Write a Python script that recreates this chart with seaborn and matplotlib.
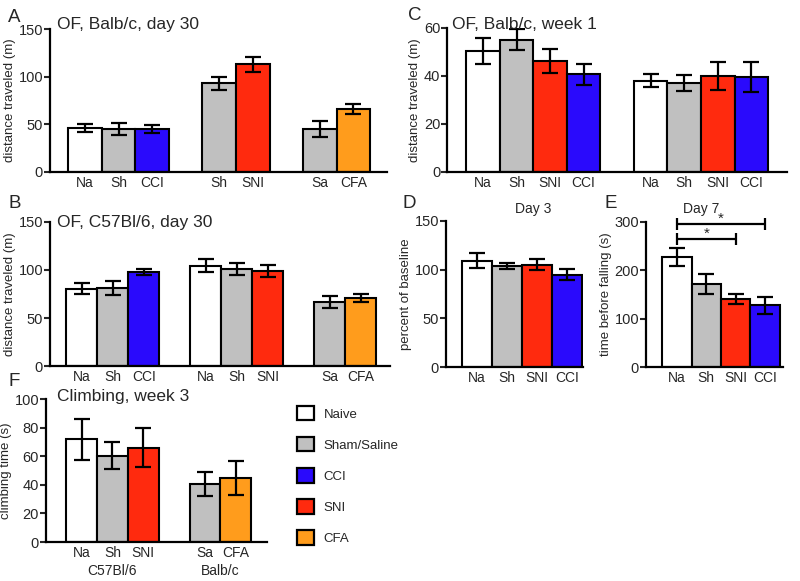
import numpy as np
import pandas as pd
import matplotlib
matplotlib.use('Agg')
import matplotlib.pyplot as plt
from matplotlib.patches import Patch
import seaborn as sns

# ZONA DE DATOS

colores = {'Naive': '#ffffff', 'Sham/Saline': '#c0c0c0', 'CCI': '#2a0afc',
           'SNI': '#ff2a0e', 'CFA': '#ff9c1c'}

# A: OF, Balb/c, day 30
a_grupos = [3, 2, 2]
a_etiq = ['Na', 'Sh', 'CCI', 'Sh', 'SNI', 'Sa', 'CFA']
a_cond = ['Naive', 'Sham/Saline', 'CCI', 'Sham/Saline', 'SNI', 'Sham/Saline', 'CFA']
a_media = [46, 45, 45, 93, 113, 45, 66]
a_sem = [4, 6, 4, 6.5, 8, 8, 5.5]

# B: OF, C57Bl/6, day 30
b_grupos = [3, 3, 2]
b_etiq = ['Na', 'Sh', 'CCI', 'Na', 'Sh', 'SNI', 'Sa', 'CFA']
b_cond = ['Naive', 'Sham/Saline', 'CCI', 'Naive', 'Sham/Saline', 'SNI', 'Sham/Saline', 'CFA']
b_media = [80.5, 81.5, 97.5, 104.5, 101, 99, 66.5, 71]
b_sem = [6, 7.5, 3, 7, 6.5, 6.3, 6.3, 4]

# C: OF, Balb/c, week 1
c_grupos = [4, 4]
c_etiq = ['Na', 'Sh', 'SNI', 'CCI', 'Na', 'Sh', 'SNI', 'CCI']
c_cond = ['Naive', 'Sham/Saline', 'SNI', 'CCI', 'Naive', 'Sham/Saline', 'SNI', 'CCI']
c_media = [50.3, 55, 46.2, 40.7, 38, 37, 40, 39.6]
c_sem = [5.5, 4.4, 5.1, 4.3, 2.6, 3.4, 5.8, 6.1]
c_dias = ['Day 3', 'Day 7']

# D: percent of baseline
d_grupos = [4]
d_etiq = ['Na', 'Sh', 'SNI', 'CCI']
d_cond = ['Naive', 'Sham/Saline', 'SNI', 'CCI']
d_media = [109, 104, 105, 94.8]
d_sem = [7.7, 3, 5.8, 5.5]

# E: time before falling
e_grupos = [4]
e_etiq = ['Na', 'Sh', 'SNI', 'CCI']
e_cond = ['Naive', 'Sham/Saline', 'SNI', 'CCI']
e_media = [227.5, 171.5, 141, 127.5]
e_sem = [19, 21, 10, 18.5]
e_sig = [('Na', 'CCI', 296), ('Na', 'SNI', 265)]

# F: Climbing, week 3
f_grupos = [3, 2]
f_etiq = ['Na', 'Sh', 'SNI', 'Sa', 'CFA']
f_cond = ['Naive', 'Sham/Saline', 'SNI', 'Sham/Saline', 'CFA']
f_media = [71.9, 60.5, 66, 40.7, 45]
f_sem = [14.3, 9.3, 13.7, 8.4, 12]
f_cepas = ['C57Bl/6', 'Balb/c']


def posiciones(grupos):
    pos = []
    inicio = 0
    for n in grupos:
        pos += list(range(inicio, inicio + n))
        inicio += n + 1
    return pos


def panel(ax, grupos, etiq, cond, media, sem, xlim, ylim, yticks, ylabel):
    pos = posiciones(grupos)
    df = pd.DataFrame({'pos': pos, 'media': media, 'cond': cond})
    sns.barplot(data=df, x='pos', y='media', hue='cond', palette=colores,
                native_scale=True, width=1, dodge=False, edgecolor='black',
                linewidth=1.5, errorbar=None, legend=False, saturation=1,
                ax=ax, zorder=2)
    ax.errorbar(pos, media, yerr=sem, fmt='none', ecolor='black',
                elinewidth=1.6, capsize=6, capthick=1.6, zorder=3)
    ax.set_xlim(*xlim)
    ax.set_ylim(*ylim)
    ax.set_yticks(yticks)
    ax.set_xticks(pos)
    ax.set_xticklabels(etiq, fontsize=10)
    ax.set_xlabel('')
    ax.set_ylabel(ylabel, fontsize=9.5, labelpad=2)
    ax.tick_params(axis='y', direction='out', length=4, width=1.5, labelsize=10.5, pad=1)
    ax.tick_params(axis='x', length=0, pad=3)
    for lado in ['top', 'right']:
        ax.spines[lado].set_visible(False)
    for lado in ['left', 'bottom']:
        ax.spines[lado].set_linewidth(1.6)
        ax.spines[lado].set_color('black')
    return pos


sns.set_style('ticks')
plt.rcParams['font.family'] = ['Liberation Sans', 'DejaVu Sans']

fig = plt.figure(figsize=(8, 5.81), dpi=100)

axA = fig.add_axes([0.0625, 0.704, 0.421, 0.246])
panel(axA, a_grupos, a_etiq, a_cond, a_media, a_sem, (-1.05, 9.0), (0, 150),
      [0, 50, 100, 150], 'distance traveled (m)')
axA.text(0.02, 1.0, 'OF, Balb/c, day 30', transform=axA.transAxes, fontsize=12.5, va='baseline')

axC = fig.add_axes([0.559, 0.704, 0.425, 0.248])
posC = panel(axC, c_grupos, c_etiq, c_cond, c_media, c_sem, (-1.07, 9.07), (0, 60),
             [0, 20, 40, 60], 'distance traveled (m)')
axC.text(0.015, 0.99, 'OF, Balb/c, week 1', transform=axC.transAxes, fontsize=12.5, va='baseline')
for i, dia in enumerate(c_dias):
    xs = posC[i * 4:(i + 1) * 4]
    axC.text(np.mean(xs), -0.26, dia, transform=axC.get_xaxis_transform(),
             ha='center', va='center', fontsize=10)

axB = fig.add_axes([0.0625, 0.370, 0.425, 0.248])
panel(axB, b_grupos, b_etiq, b_cond, b_media, b_sem, (-1.03, 9.95), (0, 150),
      [0, 50, 100, 150], 'distance traveled (m)')
axB.text(0.02, 0.965, 'OF, C57Bl/6, day 30', transform=axB.transAxes, fontsize=12.5, va='baseline')

axD = fig.add_axes([0.5575, 0.368, 0.171, 0.252])
panel(axD, d_grupos, d_etiq, d_cond, d_media, d_sem, (-1.03, 3.53), (0, 150),
      [0, 50, 100, 150], 'percent of baseline')

axE = fig.add_axes([0.8075, 0.368, 0.171, 0.250])
posE = panel(axE, e_grupos, e_etiq, e_cond, e_media, e_sem, (-1.05, 3.6), (0, 300),
             [0, 100, 200, 300], 'time before falling (s)')
for g1, g2, nivel in e_sig:
    x1 = posE[e_etiq.index(g1)]
    x2 = posE[e_etiq.index(g2)]
    axE.errorbar((x1 + x2) / 2, nivel, xerr=(x2 - x1) / 2, fmt='none', ecolor='black',
                 elinewidth=1.6, capsize=4, capthick=1.6, clip_on=False)
    axE.text((x1 + x2) / 2, nivel - 3, '*', ha='center', va='bottom', fontsize=11)

axF = fig.add_axes([0.0575, 0.067, 0.276, 0.246])
posF = panel(axF, f_grupos, f_etiq, f_cond, f_media, f_sem, (-1.15, 6.0), (0, 100),
             [0, 20, 40, 60, 80, 100], 'climbing time (s)')
axF.text(0.05, 0.99, 'Climbing, week 3', transform=axF.transAxes, fontsize=12.5, va='baseline')
inicio = 0
for n, cepa in zip(f_grupos, f_cepas):
    xs = posF[inicio:inicio + n]
    inicio += n
    axF.text(np.mean(xs), -0.2, cepa, transform=axF.get_xaxis_transform(),
             ha='center', va='center', fontsize=10)

# letras de los paneles
for letra, x, y in [('A', 8, 22), ('C', 408, 20), ('B', 8, 208), ('D', 403, 208),
                    ('E', 605, 208), ('F', 8, 386)]:
    fig.text(x / 800, 1 - y / 581, letra, fontsize=13.5, va='baseline')

# leyenda
manejadores = [Patch(facecolor=c, edgecolor='black', linewidth=1.6) for c in colores.values()]
fig.legend(manejadores, list(colores.keys()), loc='upper left',
           bbox_to_anchor=(297 / 800, 1 - 406 / 581), frameon=False, fontsize=9.5,
           handlelength=1.3, handleheight=1.3, labelspacing=1.25, handletextpad=0.7,
           borderaxespad=0, borderpad=0)

plt.savefig('out.png', dpi=100)
